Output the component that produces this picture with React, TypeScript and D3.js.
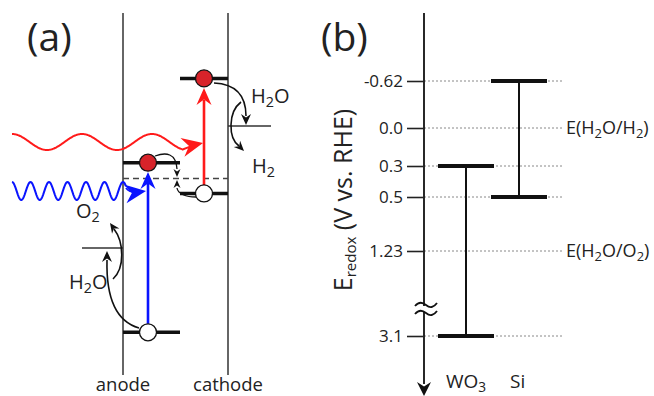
import { useEffect, useRef } from "react"
import * as d3 from "d3"

// panel (b): redox potentials, V vs. RHE
const tickValues = [-0.62, 0.0, 0.3, 0.5, 1.23, 3.1]
const tickLabels = ["-0.62", "0.0", "0.3", "0.5", "1.23", "3.1"]
const materials = ["WO3", "Si"]
const cbEdge = [0.3, -0.62]
const vbEdge = [3.1, 0.5]
const redoxValues = [0.0, 1.23]
const redoxLabels = ["H2O/H2", "H2O/O2"]

// panel (a): schematic levels (V, relative to H2O/H2)
const electrodes = ["anode", "cathode"]
const electrodeCB = [0.37, -0.48]
const electrodeVB = [2.08, 0.68]
const fermiLevel = 0.53
const waterLevels = [0.0, 1.23]

const FONT = "'Open Sans', 'Noto Sans', sans-serif"
const INK = "#222"

function head(x: number, y: number, angle: number, len: number, w: number, color: string) {
  const d = `M0,0 L${-len},${-w / 2} L${-len * 0.68},0 L${-len},${w / 2} Z`
  return <path d={d} fill={color} transform={`translate(${x},${y}) rotate(${angle})`} />
}

function wave(x0: number, x1: number, yc: number, amp: number, period: number) {
  const pts: [number, number][] = []
  for (let x = x0; x <= x1; x += 0.5) pts.push([x, yc - amp * Math.cos((2 * Math.PI * (x - x0)) / period)])
  return d3.line()(pts) || ""
}

// text with numeric subscripts
function chem(label: string, fs: number) {
  const parts = label.match(/[A-Za-z/()]+|\d+/g) || []
  return parts.map((p, i) =>
    /\d/.test(p) ? (
      <tspan key={i} fontSize={fs * 0.72} dy={fs * 0.22}>{p}</tspan>
    ) : (
      <tspan key={i} dy={i > 0 && /\d/.test(parts[i - 1]) ? -fs * 0.22 : 0}>{p}</tspan>
    )
  )
}

export default function App() {
  const axisRef = useRef<SVGGElement>(null)

  // panel (b) scale: broken, schematic axis -> piecewise linear
  const yB = d3.scaleLinear().domain(tickValues).range([81, 128, 166, 197, 251, 336])
  const axisX = 424
  const xB = d3.scalePoint().domain(materials).range([466, 519])

  // panel (a) scale
  const yA = d3.scaleLinear().domain([0, 1.23]).range([126, 248])
  const xA = d3.scalePoint().domain(electrodes).range([123, 228])

  useEffect(() => {
    if (!axisRef.current) return
    const g = d3.select(axisRef.current)
    g.selectAll("*").remove()
    g.call(
      d3
        .axisLeft(yB)
        .tickValues(tickValues)
        .tickSize(17)
        .tickPadding(4)
        .tickFormat((_, i) => tickLabels[i])
    )
    g.select(".domain").remove()
    g.selectAll(".tick line").attr("stroke", INK).attr("stroke-width", 1.6)
    g.selectAll(".tick text").attr("fill", INK).style("font-family", FONT).style("font-size", "17px")
  }, [])

  const anodeX = xA("anode")!
  const cathodeX = xA("cathode")!
  const aDot = 148
  const cDot = 204

  return (
    <svg width={654} height={396} style={{ position: "absolute", left: 0, top: 0, background: "#fff" }} fontFamily={FONT}>
      {/* ---------- panel (a) ---------- */}
      <text x={27} y={51} fontSize={39} fill={INK}>(a)</text>
      {electrodes.map((e) => (
        <g key={e}>
          <line x1={xA(e)} x2={xA(e)} y1={13} y2={375} stroke="#333" strokeWidth={1.5} />
          <text x={xA(e)} y={391} fontSize={18.5} textAnchor="middle" fill={INK}>{e}</text>
        </g>
      ))}
      {/* fermi level dashed */}
      <line x1={anodeX} x2={cathodeX} y1={yA(fermiLevel)} y2={yA(fermiLevel)} stroke="#444" strokeWidth={1.6} strokeDasharray="6,4" />
      {/* band edges */}
      <line x1={anodeX} x2={180} y1={yA(electrodeCB[0])} y2={yA(electrodeCB[0])} stroke="#111" strokeWidth={3.5} />
      <line x1={anodeX} x2={180} y1={yA(electrodeVB[0])} y2={yA(electrodeVB[0])} stroke="#111" strokeWidth={3.5} />
      <line x1={180} x2={cathodeX} y1={yA(electrodeCB[1])} y2={yA(electrodeCB[1])} stroke="#111" strokeWidth={3.5} />
      <line x1={180} x2={cathodeX} y1={yA(electrodeVB[1])} y2={yA(electrodeVB[1])} stroke="#111" strokeWidth={3.5} />
      {/* water levels */}
      <line x1={cathodeX} x2={271} y1={yA(waterLevels[0])} y2={yA(waterLevels[0])} stroke="#333" strokeWidth={1.5} />
      <line x1={82} x2={anodeX} y1={yA(waterLevels[1])} y2={yA(waterLevels[1])} stroke="#333" strokeWidth={1.5} />

      {/* photons */}
      <path d={wave(12, 182, 142, 8, 70)} fill="none" stroke="#ff1a1a" strokeWidth={2} />
      <path d="M182,149.8 Q190,147 196,143.5" fill="none" stroke="#ff1a1a" strokeWidth={2} />
      {head(203, 143, -12, 21, 19, "#ff1a1a")}
      <path d={wave(12, 126, 191, 9, 18.5)} fill="none" stroke="#0a14ff" strokeWidth={2} />
      <path d="M126,188 Q130,193 138,192" fill="none" stroke="#0a14ff" strokeWidth={2} />
      {head(146, 191, -8, 21, 19, "#0a14ff")}

      {/* excitations */}
      <line x1={cDot} x2={cDot} y1={yA(electrodeVB[1])} y2={100} stroke="#ff1a1a" strokeWidth={2.6} />
      {head(cDot, 88, -90, 17, 15, "#ff1a1a")}
      <line x1={aDot} x2={aDot} y1={yA(electrodeVB[0])} y2={182} stroke="#0a14ff" strokeWidth={2.6} />
      {head(aDot, 172, -90, 17, 15, "#0a14ff")}

      {/* recombination arrows */}
      <path d="M155,156 C166,152 176,153 177,169" fill="none" stroke="#111" strokeWidth={1.3} />
      {head(177, 177, 90, 8, 7, "#111")}
      <path d="M196,197 C186,197 178,194 177,188" fill="none" stroke="#111" strokeWidth={1.3} />
      {head(177, 180, -90, 8, 7, "#111")}

      {/* cathode reaction */}
      <path d="M214,83 C236,84 246,96 246,116" fill="none" stroke="#111" strokeWidth={1.6} />
      {head(246, 125, 90, 11, 10, "#111")}
      <path d="M241,102 C228,112 228,138 239,146" fill="none" stroke="#111" strokeWidth={1.6} />
      {head(244, 151, 45, 10, 9, "#111")}
      <text x={251} y={103} fontSize={20} fill={INK}>{chem("H2O", 20)}</text>
      <text x={252} y={173} fontSize={20} fill={INK}>{chem("H2", 20)}</text>

      {/* anode reaction */}
      <path d="M139,328 C118,322 106,300 107,260" fill="none" stroke="#111" strokeWidth={1.6} />
      {head(107, 251, -90, 11, 10, "#111")}
      <path d="M113,279 C125,268 124,242 114,229" fill="none" stroke="#111" strokeWidth={1.6} />
      {head(110, 223, -125, 10, 9, "#111")}
      <text x={76} y={218} fontSize={20} fill={INK}>{chem("O2", 20)}</text>
      <text x={69} y={289} fontSize={20} fill={INK}>{chem("H2O", 20)}</text>

      {/* dots */}
      <circle cx={aDot} cy={yA(electrodeCB[0])} r={8.5} fill="#d8232a" stroke="#111" strokeWidth={1.3} />
      <circle cx={cDot} cy={yA(electrodeCB[1])} r={8.5} fill="#d8232a" stroke="#111" strokeWidth={1.3} />
      <circle cx={aDot} cy={yA(electrodeVB[0])} r={8.5} fill="#fff" stroke="#111" strokeWidth={1.3} />
      <circle cx={cDot} cy={yA(electrodeVB[1])} r={8.5} fill="#fff" stroke="#111" strokeWidth={1.3} />

      {/* ---------- panel (b) ---------- */}
      <text x={321} y={51} fontSize={39} fill={INK}>(b)</text>
      {tickValues.map((v) => (
        <line key={v} x1={axisX} x2={562} y1={yB(v)} y2={yB(v)} stroke="#888" strokeWidth={1} strokeDasharray="2,2" />
      ))}
      <line x1={axisX} x2={axisX} y1={13} y2={384} stroke="#111" strokeWidth={1.8} />
      {head(axisX, 396, 90, 14, 14, "#111")}
      <g ref={axisRef} transform={`translate(${axisX},0)`} />
      {/* axis break */}
      <rect x={418} y={306} width={14} height={6} fill="#fff" />
      <path d="M415,306 q5,-6 11,-1 t11,-2" fill="none" stroke="#111" strokeWidth={1.8} />
      <path d="M415,314 q5,-6 11,-1 t11,-2" fill="none" stroke="#111" strokeWidth={1.8} />

      {materials.map((m, i) => (
        <g key={m}>
          <line x1={xB(m)} x2={xB(m)} y1={yB(cbEdge[i])} y2={yB(vbEdge[i])} stroke="#111" strokeWidth={2} />
          <line x1={xB(m)! - 28} x2={xB(m)! + 28} y1={yB(cbEdge[i])} y2={yB(cbEdge[i])} stroke="#111" strokeWidth={4} />
          <line x1={xB(m)! - 28} x2={xB(m)! + 28} y1={yB(vbEdge[i])} y2={yB(vbEdge[i])} stroke="#111" strokeWidth={4} />
        </g>
      ))}
      <text x={446} y={388} fontSize={19} fill={INK}>{chem("WO3", 19)}</text>
      <text x={510} y={388} fontSize={19} fill={INK}>Si</text>

      {redoxValues.map((v, i) => (
        <text key={v} x={566} y={yB(v) + 6} fontSize={18} fill={INK}>
          {chem(`E(${redoxLabels[i]})`, 18)}
        </text>
      ))}

      <text transform="translate(352,200) rotate(-90)" textAnchor="middle" fontSize={25} fill={INK}>
        E<tspan fontSize={15} dy={4}>redox</tspan>
        <tspan dy={-4}> (V vs. RHE)</tspan>
      </text>
    </svg>
  )
}
